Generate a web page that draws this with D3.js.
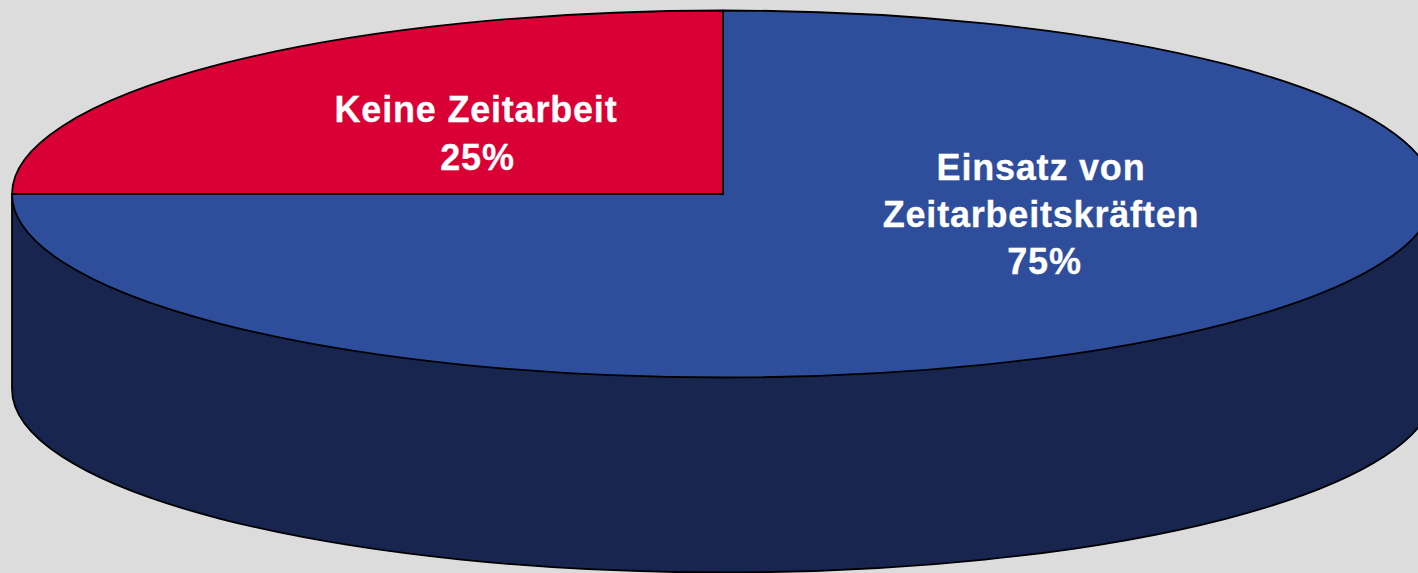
<!DOCTYPE html>
<html><head><meta charset="utf-8">
<style>html,body{margin:0;padding:0;background:#dcdcdc;overflow:hidden}svg{display:block}</style>
<script src="https://cdn.jsdelivr.net/npm/d3@7/dist/d3.min.js"></script></head>
<body><script>
const categories = ["Einsatz von Zeitarbeitskräften", "Keine Zeitarbeit"];
const values = [75, 25];
const colors = ["#2e4d9b", "#d90036"];
const sideColor = "#17254f";
const labelLines = [["Einsatz von", "Zeitarbeitskräften", "75%"], ["Keine Zeitarbeit", "25%"]];

const W = 1418, H = 573, cx = 723, cy = 194, rx = 711, ry = 183.5, depth = 195;
const k = ry / rx;
const svg = d3.select("body").append("svg").attr("width", W).attr("height", H);
svg.append("rect").attr("width", W).attr("height", H).attr("fill", "#dcdcdc");
const g = svg.append("g").attr("transform", `translate(${cx},${cy}) scale(1,${k})`);

const side = d3.path();
side.moveTo(-rx, 0);
side.lineTo(-rx, depth / k);
side.arc(0, depth / k, rx, Math.PI, 0, true);
side.lineTo(rx, 0);
side.closePath();
g.append("path").attr("d", side.toString()).attr("fill", sideColor)
  .attr("stroke", "#000").attr("stroke-width", 1.8).attr("vector-effect", "non-scaling-stroke");

const pie = d3.pie().sort(null)(values);
const arc = d3.arc().innerRadius(0).outerRadius(rx);
g.selectAll("path.slice").data(pie).join("path").attr("class", "slice")
  .attr("d", arc).attr("fill", (d, i) => colors[i])
  .attr("stroke", "#000").attr("stroke-width", 1.8).attr("stroke-linejoin", "round")
  .attr("vector-effect", "non-scaling-stroke");

const labelPos = [{xs: [1041, 1041, 1044.5], y: 180, lh: 47}, {xs: [476, 477.5], y: 122, lh: 48}];
labelLines.forEach((lines, i) => {
  const t = svg.append("text").attr("text-anchor", "middle")
    .attr("font-family", "'Liberation Sans', Arial, sans-serif")
    .attr("font-weight", "bold").attr("font-size", 36).attr("letter-spacing", 0.8)
    .attr("fill", "#fff").attr("stroke", "#fff").attr("stroke-width", 0.3);
  lines.forEach((s, j) => t.append("tspan").attr("x", labelPos[i].xs[j])
    .attr("y", labelPos[i].y + j * labelPos[i].lh).text(s));
});
</script></body></html>
